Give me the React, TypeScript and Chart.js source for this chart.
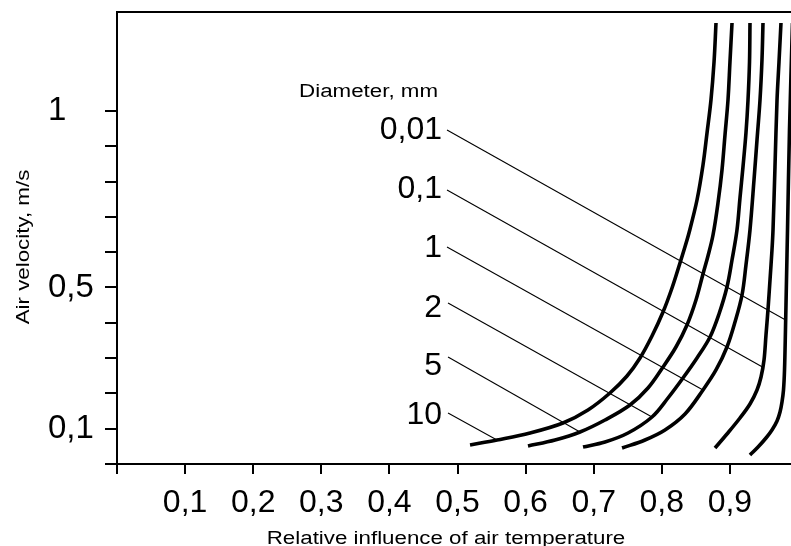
import React, { useEffect, useRef } from 'react';
import { Chart, registerables } from 'chart.js';

Chart.register(...registerables);

// ---------- axes ----------
const xTickValues = [0, 0.1, 0.2, 0.3, 0.4, 0.5, 0.6, 0.7, 0.8, 0.9, 1.0];
const xTickLabels = ['', '0,1', '0,2', '0,3', '0,4', '0,5', '0,6', '0,7', '0,8', '0,9', ''];
const yTickValues = [0, 0.1, 0.2, 0.3, 0.4, 0.5, 0.6, 0.7, 0.8, 0.9, 1.0];
const yTickLabels = ['', '0,1', '', '', '', '0,5', '', '', '', '', '1'];

const xTitle = 'Relative influence of air temperature';
const yTitle = 'Air velocity, m/s';
const legendTitle = 'Diameter, mm';

// ---------- curves (x = relative influence, y = air velocity m/s) ----------
const d001X = [0.9295, 0.9413, 0.953, 0.9618, 0.9692, 0.9736, 0.9765, 0.9787, 0.9802, 0.9816, 0.9831, 0.9846, 0.9875, 0.9919];
const d001Y = [0.0255, 0.0481, 0.0736, 0.0963, 0.1218, 0.1473, 0.1756, 0.2096, 0.2662, 0.3795, 0.5211, 0.6627, 0.9459, 1.2489];

const d01X = [0.8781, 0.8957, 0.9148, 0.9295, 0.9398, 0.9457, 0.9501, 0.953, 0.9559, 0.9589, 0.9618, 0.9633, 0.9662, 0.9692, 0.9721, 0.975];
const d01Y = [0.0453, 0.085, 0.1303, 0.1699, 0.2096, 0.2464, 0.2945, 0.3653, 0.4361, 0.5211, 0.606, 0.6627, 0.8411, 1.0308, 1.1384, 1.2489];

const d1X = [0.7416, 0.7753, 0.8047, 0.8341, 0.8605, 0.8796, 0.8957, 0.9075, 0.9178, 0.9236, 0.9295, 0.9354, 0.9398, 0.9442, 0.9471, 0.9486];
const d1Y = [0.0453, 0.068, 0.0963, 0.1416, 0.2096, 0.2662, 0.3313, 0.4021, 0.4786, 0.5635, 0.6627, 0.8043, 0.9175, 1.0308, 1.1441, 1.2489];

const d2X = [0.6843, 0.7166, 0.7504, 0.7856, 0.8091, 0.8311, 0.8517, 0.8708, 0.884, 0.8957, 0.9031, 0.9104, 0.9148, 0.9192, 0.9236, 0.9266, 0.9288, 0.9295];
const d2Y = [0.0481, 0.0623, 0.0878, 0.1331, 0.1869, 0.2435, 0.3002, 0.3597, 0.4248, 0.5012, 0.5777, 0.6627, 0.7533, 0.8411, 0.9374, 1.0308, 1.1384, 1.2489];

const d5X = [0.6035, 0.6432, 0.6799, 0.7166, 0.7533, 0.7797, 0.8018, 0.8208, 0.837, 0.8502, 0.8605, 0.8678, 0.8752, 0.8825, 0.8884, 0.8928, 0.8972, 0.9001, 0.9031];
const d5Y = [0.051, 0.068, 0.0906, 0.1246, 0.1671, 0.2152, 0.2747, 0.3313, 0.3936, 0.4644, 0.5381, 0.589, 0.6485, 0.7391, 0.8326, 0.9317, 1.0308, 1.1384, 1.2489];

const d10X = [0.5184, 0.558, 0.6065, 0.6549, 0.6916, 0.7239, 0.7489, 0.768, 0.7856, 0.8018, 0.815, 0.8267, 0.8326, 0.8399, 0.8517, 0.8605, 0.8664, 0.8722, 0.8767, 0.8796];
const d10Y = [0.0538, 0.068, 0.0878, 0.1161, 0.1529, 0.2011, 0.2492, 0.3002, 0.3625, 0.4304, 0.4984, 0.5692, 0.606, 0.6542, 0.7476, 0.8467, 0.9374, 1.0308, 1.1384, 1.2489];

// ---------- labels with leader lines (order: 0,01 0,1 1 2 5 10) ----------
const diameterLabels = ['0,01', '0,1', '1', '2', '5', '10'];
const labelX = 0.4772;
const labelY = [0.9465, 0.7774, 0.6103, 0.4404, 0.2761, 0.1374];
const leaderStartX = [0.4846, 0.4846, 0.4846, 0.4861, 0.4861, 0.4861];
const leaderStartY = [0.9459, 0.776, 0.6146, 0.456, 0.303, 0.1444];
const leaderEndX = [0.9818, 0.9478, 0.8605, 0.7856, 0.6799, 0.558];
const leaderEndY = [0.4078, 0.2747, 0.2096, 0.1331, 0.0906, 0.068];
const legendTitleX = 0.4714;
const legendTitleY = 1.0402;

const curveXs = [d001X, d01X, d1X, d2X, d5X, d10X];
const curveYs = [d001Y, d01Y, d1Y, d2Y, d5Y, d10Y];

const FONT = '"Liberation Sans", Arial, Helvetica, sans-serif';
const STRETCH = 1.24;

function drawStretched(ctx: CanvasRenderingContext2D, text: string, x: number, y: number, align: CanvasTextAlign, rot = 0) {
  ctx.save();
  ctx.translate(x, y);
  if (rot) ctx.rotate(rot);
  ctx.scale(STRETCH, 1);
  ctx.textAlign = align;
  ctx.fillText(text, 0, 0);
  ctx.restore();
}

const overlayPlugin = {
  id: 'overlay',
  afterDatasetsDraw(chart: any) {
    const { ctx, scales } = chart;
    const x = scales.x;
    const y = scales.y;
    ctx.save();
    ctx.fillStyle = '#000';
    ctx.font = `32px ${FONT}`;
    ctx.textAlign = 'right';
    ctx.textBaseline = 'middle';
    diameterLabels.forEach((t, i) => {
      ctx.fillText(t, x.getPixelForValue(labelX), y.getPixelForValue(labelY[i]));
    });
    ctx.font = `18px ${FONT}`;
    ctx.textBaseline = 'alphabetic';
    drawStretched(ctx, legendTitle, x.getPixelForValue(legendTitleX), y.getPixelForValue(legendTitleY), 'right');
    ctx.restore();
  },
  afterDraw(chart: any) {
    const { ctx, chartArea } = chart;
    ctx.save();
    ctx.strokeStyle = '#000';
    ctx.lineWidth = 2;
    ctx.beginPath();
    ctx.moveTo(chartArea.left - 1, chartArea.top);
    ctx.lineTo(chartArea.right, chartArea.top);
    ctx.lineTo(chartArea.right, chartArea.bottom);
    ctx.stroke();
    ctx.fillStyle = '#000';
    ctx.font = `18px ${FONT}`;
    ctx.textBaseline = 'alphabetic';
    drawStretched(ctx, xTitle, chartArea.left + 329, 544, 'center');
    drawStretched(ctx, yTitle, 29, 247, 'center', -Math.PI / 2);
    ctx.restore();
  },
};

export default function App() {
  const ref = useRef<HTMLCanvasElement>(null);

  useEffect(() => {
    const canvas = ref.current;
    if (!canvas) return;
    Chart.defaults.font.family = FONT;
    Chart.defaults.color = '#000';

    const curveSets = curveXs.map((xs, k) => ({
      label: 'd ' + diameterLabels[k],
      data: xs.map((v, i) => ({ x: v, y: curveYs[k][i] })),
      borderColor: '#000',
      borderWidth: 3.6,
      pointRadius: 0,
      fill: false,
      tension: 0.35,
    }));
    const leaderSets = diameterLabels.map((t, i) => ({
      label: 'leader ' + t,
      data: [
        { x: leaderStartX[i], y: leaderStartY[i] },
        { x: leaderEndX[i], y: leaderEndY[i] },
      ],
      borderColor: '#000',
      borderWidth: 1.1,
      pointRadius: 0,
      fill: false,
      tension: 0,
    }));

    const chart = new Chart(canvas, {
      type: 'line',
      data: { datasets: [...curveSets, ...leaderSets] as any },
      options: {
        animation: false,
        responsive: false,
        layout: { padding: { left: 48, top: 12, right: 12, bottom: 0 } },
        plugins: { legend: { display: false }, tooltip: { enabled: false } },
        scales: {
          x: {
            type: 'linear',
            min: 0,
            max: 1,
            afterBuildTicks: (s: any) => {
              s.ticks = xTickValues.map((v) => ({ value: v }));
            },
            afterFit: (s: any) => {
              s.height = 82;
              s.paddingLeft = 0;
              s.paddingRight = 0;
            },
            ticks: {
              autoSkip: false,
              maxRotation: 0,
              padding: 10,
              color: '#000',
              font: { size: 32, family: FONT },
              callback: (v: any) => {
                const i = xTickValues.findIndex((t) => Math.abs(t - Number(v)) < 1e-9);
                return i >= 0 ? xTickLabels[i] : '';
              },
            },
            grid: { display: true, drawOnChartArea: false, drawTicks: true, tickLength: 10, color: '#000', lineWidth: 2 },
            border: { display: true, color: '#000', width: 2 },
          },
          y: {
            type: 'linear',
            min: 0,
            max: 1.28,
            afterBuildTicks: (s: any) => {
              s.ticks = yTickValues.map((v) => ({ value: v }));
            },
            afterFit: (s: any) => {
              s.width = 69;
              s.paddingTop = 0;
              s.paddingBottom = 0;
            },
            ticks: {
              autoSkip: false,
              crossAlign: 'far',
              padding: 8,
              color: '#000',
              font: { size: 33, family: FONT },
              callback: (v: any) => {
                const i = yTickValues.findIndex((t) => Math.abs(t - Number(v)) < 1e-9);
                return i >= 0 ? yTickLabels[i] : '';
              },
            },
            grid: { display: true, drawOnChartArea: false, drawTicks: true, tickLength: 12, color: '#000', lineWidth: 2 },
            border: { display: true, color: '#000', width: 2 },
          },
        },
      },
      plugins: [overlayPlugin],
    });
    return () => chart.destroy();
  }, []);

  return (
    <div style={{ position: 'fixed', left: 0, top: 0, width: 791, height: 546, overflow: 'hidden', background: '#fff' }}>
      <canvas ref={ref} width={810} height={546} style={{ display: 'block', width: 810, height: 546 }} />
    </div>
  );
}
